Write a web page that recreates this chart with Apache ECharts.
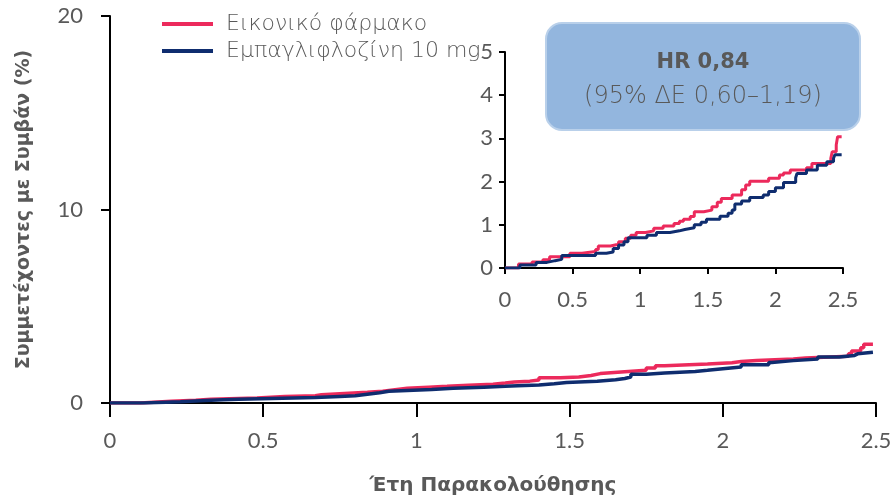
<!DOCTYPE html>
<html>
<head>
<meta charset="utf-8">
<script src="https://cdn.jsdelivr.net/npm/echarts@6/dist/echarts.min.js"></script>
<style>
  html, body { margin: 0; padding: 0; background: #fff; }
  #chart { width: 893px; height: 499px; }
</style>
</head>
<body>
<div id="chart"></div>
<script>
// Cumulative incidence (Kaplan–Meier style step curves), percent of participants with event
const seriesNames = ['Εικονικό φάρμακο', 'Εμπαγλιφλοζίνη 10 mg'];

const placeboYears = [0, 0.10, 0.20, 0.28, 0.33, 0.48, 0.57, 0.67, 0.69, 0.78, 0.84, 0.89, 0.93, 0.97,
  1.04, 1.10, 1.17, 1.25, 1.29, 1.32, 1.37, 1.40, 1.47, 1.53, 1.57, 1.60, 1.68, 1.75, 1.78, 1.81,
  1.95, 2.03, 2.06, 2.11, 2.23, 2.27, 2.41, 2.42, 2.45, 2.46, 2.49];
const placeboPct = [0, 0.09, 0.14, 0.19, 0.26, 0.34, 0.38, 0.43, 0.51, 0.55, 0.61, 0.69, 0.76, 0.82,
  0.86, 0.92, 0.97, 1.03, 1.08, 1.13, 1.19, 1.30, 1.34, 1.42, 1.52, 1.61, 1.69, 1.81, 1.92, 2.01,
  2.08, 2.15, 2.20, 2.27, 2.32, 2.42, 2.54, 2.69, 2.85, 3.04, 3.04];

const empaYears = [0, 0.11, 0.23, 0.31, 0.37, 0.42, 0.67, 0.75, 0.80, 0.84, 0.88, 0.91, 1.05, 1.12,
  1.22, 1.29, 1.33, 1.40, 1.45, 1.49, 1.59, 1.65, 1.68, 1.70, 1.75, 1.81, 1.91, 1.95, 2.00, 2.06,
  2.15, 2.16, 2.23, 2.31, 2.38, 2.43, 2.44, 2.49];
const empaPct = [0, 0.07, 0.13, 0.17, 0.20, 0.29, 0.34, 0.37, 0.45, 0.53, 0.61, 0.70, 0.76, 0.82,
  0.86, 0.89, 0.93, 1.00, 1.06, 1.13, 1.20, 1.27, 1.34, 1.48, 1.55, 1.63, 1.69, 1.77, 1.86, 1.98,
  2.09, 2.19, 2.27, 2.38, 2.46, 2.54, 2.62, 2.62];

// Axis ranges
const xRange = [0, 2.5], xStep = 0.5;
const mainYRange = [0, 20], mainYStep = 10;
const insetYRange = [0, 5], insetYStep = 1;

const hrLine = 'HR 0,84';
const ciLine = '(95% ΔΕ 0,60–1,19)';
const xTitle = 'Έτη Παρακολούθησης';
const yTitle = 'Συμμετέχοντες με Συμβάν (%)';

const RED = '#ec2a5c';
const BLUE = '#0f2d6f';
const TXT = '#595959';
const NUM_FONT = 'Lato, "Noto Sans", sans-serif';
const WIDE_FONT = '"DejaVu Sans", sans-serif';

const zip = (xs, ys) => xs.map((x, i) => [x, ys[i]]);
const placeboData = zip(placeboYears, placeboPct);
const empaData = zip(empaYears, empaPct);

function xAxisCfg(grid, labelMargin, tickLen, name) {
  return {
    type: 'value', gridIndex: grid, min: xRange[0], max: xRange[1], interval: xStep,
    axisLine: { show: true, onZero: false, lineStyle: { color: '#000', width: 2 } },
    axisTick: { show: true, length: tickLen, lineStyle: { color: '#000', width: 2 } },
    axisLabel: { color: TXT, fontSize: 22, fontFamily: NUM_FONT, margin: labelMargin, showMaxLabel: true, showMinLabel: true },
    splitLine: { show: false },
    name: name || '', nameLocation: 'middle', nameGap: 73,
    nameTextStyle: { color: TXT, fontSize: 20, fontWeight: 'bold', fontFamily: WIDE_FONT }
  };
}
function yAxisCfg(grid, range, step, labelMargin, tickLen, name) {
  return {
    type: 'value', gridIndex: grid, min: range[0], max: range[1], interval: step,
    axisLine: { show: true, onZero: false, lineStyle: { color: '#000', width: 2 } },
    axisTick: { show: true, length: tickLen, lineStyle: { color: '#000', width: 2 } },
    axisLabel: { color: TXT, fontSize: 22, fontFamily: NUM_FONT, margin: labelMargin, padding: [15, 0, 0, 0], showMaxLabel: true },
    splitLine: { show: false },
    name: name || '', nameLocation: 'middle', nameGap: 76,
    nameTextStyle: { color: TXT, fontSize: 19, fontWeight: 'bold', fontFamily: WIDE_FONT }
  };
}
function stepSeries(name, data, color, width, xi, yi, z) {
  return {
    name, type: 'line', step: 'end', data, xAxisIndex: xi, yAxisIndex: yi,
    showSymbol: false, symbol: 'none', silent: true, animation: false, z,
    lineStyle: { color, width }, itemStyle: { color }
  };
}

const chart = echarts.init(document.getElementById('chart'));
chart.setOption({
  animation: false,
  backgroundColor: '#fff',
  grid: [
    { left: 110, right: 17, top: 16, bottom: 96, containLabel: false, outerBoundsMode: 'none' },
    { left: 505, right: 50, top: 52, bottom: 231, containLabel: false, outerBoundsMode: 'none' }
  ],
  xAxis: [
    xAxisCfg(0, 27, 14, xTitle),
    xAxisCfg(1, 21, 6)
  ],
  yAxis: [
    yAxisCfg(0, mainYRange, mainYStep, 27, 9, yTitle),
    yAxisCfg(1, insetYRange, insetYStep, 12, 6)
  ],
  legend: {
    data: seriesNames, orient: 'vertical', left: 157, top: 7,
    icon: 'rect', itemWidth: 51, itemHeight: 4, itemGap: 3,
    textStyle: { color: TXT, fontSize: 22, fontWeight: 200, fontFamily: WIDE_FONT, padding: [0, 0, 0, 8], lineHeight: 24 },
    selectedMode: false
  },
  series: [
    stepSeries(seriesNames[0], placeboData, RED, 3.5, 0, 0, 3),
    stepSeries(seriesNames[1], empaData, BLUE, 3.5, 0, 0, 4),
    stepSeries(seriesNames[0], placeboData, RED, 3, 1, 1, 3),
    stepSeries(seriesNames[1], empaData, BLUE, 3, 1, 1, 4)
  ],
  graphic: [
    {
      type: 'rect', z: 20,
      shape: { x: 546, y: 23, width: 314, height: 107, r: 16 },
      style: { fill: '#93b6de', stroke: '#b9d0ea', lineWidth: 2 }
    },
    {
      type: 'text', z: 21, x: 703, y: 63,
      style: { text: hrLine, fill: TXT, font: 'bold 21px ' + WIDE_FONT, textAlign: 'center', textVerticalAlign: 'middle' }
    },
    {
      type: 'text', z: 21, x: 703, y: 97,
      style: { text: ciLine, fill: TXT, font: '200 24px ' + WIDE_FONT, textAlign: 'center', textVerticalAlign: 'middle' }
    }
  ]
});
</script>
</body>
</html>
